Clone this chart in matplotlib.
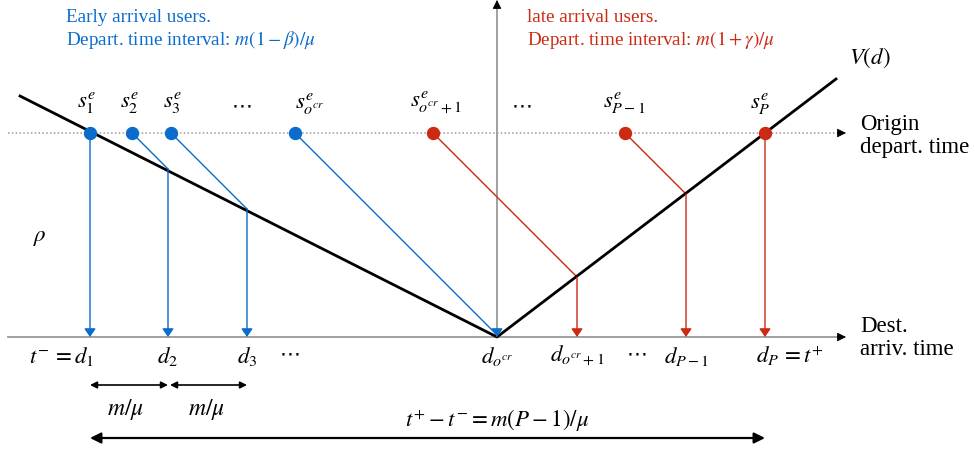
import numpy as np
import matplotlib.pyplot as plt

plt.rcParams['font.family'] = ['Liberation Serif', 'DejaVu Serif']
plt.rcParams['mathtext.fontset'] = 'stix'

# diagram coordinates (pixel-like units, y grows downward)
y_dep = 133          # origin departure time line
y_arr = 337          # destination arrival time line
x_star = 497         # d_{o^cr}, bottom of V

# departure / arrival times of users
dep_early = [90, 132, 171, 295]
arr_early = [90, 168, 247, 497]
dep_late = [433, 625, 765]
arr_late = [577, 686, 765]

# V(d) curve end points
v_x = [20, 497, 836]
v_y = [96, 337, 79]

s_labels = [r'$s^e_1$', r'$s^e_2$', r'$s^e_3$', None, r'$s^e_{o^{cr}}$',
            r'$s^e_{o^{cr}+1}$', None, r'$s^e_{P-1}$', r'$s^e_P$']
s_label_x = [86, 129, 172, 242, 310, 436, 522, 624, 760]

d_labels = [r'$t^{-}\,=d_1$', r'$d_2$', r'$d_3$', None, r'$d_{o^{cr}}$',
            r'$d_{o^{cr}+1}$', None, r'$d_{P-1}$', r'$d_P\,=t^{+}$']
d_label_x = [62, 168, 247, 290, 497, 577, 637, 687, 790]

blue = '#0a6ccc'
red = '#cc2a12'
gray = '#999999'

fig = plt.figure(figsize=(9.75, 4.53), dpi=100)
ax = fig.add_axes([0, 0, 1, 1])
ax.set_xlim(0, 975)
ax.set_ylim(453, 0)
ax.axis('off')

def arrow(x0, y0, x1, y1, color, lw=1.0, style='-|>', ms=12):
    ax.annotate('', xy=(x1, y1), xytext=(x0, y0),
                arrowprops=dict(arrowstyle=style, color=color, lw=lw,
                                mutation_scale=ms, shrinkA=0, shrinkB=0))

head = '-|>,head_length=0.6,head_width=0.3'
# axes: gray lines, small black heads
ax.plot([8, 840], [y_arr, y_arr], color=gray, lw=1.3)
arrow(838, y_arr, 846, y_arr, 'black', lw=0.6, style=head, ms=9)
ax.plot([x_star, x_star], [y_arr, 6], color=gray, lw=1.3)
arrow(x_star, 8, x_star, 0, 'black', lw=0.6, style=head, ms=9)
ax.plot([8, 838], [y_dep, y_dep], color=gray, lw=1.1, ls=(0, (1, 1.5)))
arrow(838, y_dep, 846, y_dep, 'black', lw=0.6, style=head, ms=9)

# V(d)
ax.plot(v_x, v_y, color='black', lw=2.0, zorder=3)

# user trajectories: 45 degree line to V(d), then down to arrival
chead = '-|>,head_length=0.55,head_width=0.38'
for xs_list, xa_list, c in [(dep_early, arr_early, blue), (dep_late, arr_late, red)]:
    for xs, xa in zip(xs_list, xa_list):
        yk = min(y_dep + (xa - xs), y_arr)
        ax.plot([xs, xa], [y_dep, yk], color=c, lw=1.0, zorder=2)
        if yk < y_arr:
            arrow(xa, yk, xa, y_arr, c, lw=1.0, style=chead, ms=9)
        else:
            arrow(xs, y_dep, xa, y_arr, c, lw=1.0, style=chead, ms=9)
    ax.plot(xs_list, [y_dep] * len(xs_list), 'o', color=c, ms=8.6, zorder=4)

for lab, x in zip(s_labels, s_label_x):
    if lab is None:
        ax.text(x, 106, '\u22ef', fontsize=15, ha='center', va='center',
                family='DejaVu Sans')
    else:
        ax.text(x, 103, lab, fontsize=16.5, ha='center', va='center')
for lab, x in zip(d_labels, d_label_x):
    if lab is None:
        ax.text(x, 354, '\u22ef', fontsize=15, ha='center', va='center',
                family='DejaVu Sans')
    else:
        ax.text(x, 356, lab, fontsize=16.5, ha='center', va='center')

ax.text(849, 58, r'$V(d)$', fontsize=16.5, ha='left', va='center')
ax.text(40, 237, r'$\rho$', fontsize=16.5, ha='center', va='center')

ax.text(860, 136, 'Origin\ndepart. time', fontsize=16.5, ha='left', va='center',
        linespacing=1.1)
ax.text(860, 338, 'Dest.\narriv. time', fontsize=16.5, ha='left', va='center',
        linespacing=1.1)

ax.text(66, 17, 'Early arrival users.', fontsize=13.8, color=blue, va='center')
ax.text(66, 40, r'Depart. time interval: $m(1-\beta)/\mu$', fontsize=13.8,
        color=blue, va='center')
ax.text(527, 17, 'late arrival users.', fontsize=13.8, color=red, va='center')
ax.text(527, 40, r'Depart. time interval: $m(1+\gamma)/\mu$', fontsize=13.8,
        color=red, va='center')

# interval arrows
arrow(90, 385, 168, 385, 'black', lw=1.2, style='<|-|>', ms=10)
arrow(170, 385, 247, 385, 'black', lw=1.2, style='<|-|>', ms=10)
ax.text(126, 410, r'$m/\mu$', fontsize=17, ha='center', va='center')
ax.text(207, 410, r'$m/\mu$', fontsize=17, ha='center', va='center')

arrow(90, 438, 765, 438, 'black', lw=1.6, style='<|-|>', ms=16)
ax.text(497, 421, r'$t^{+}-t^{-}=m(P-1)/\mu$', fontsize=16.5, ha='center', va='center')

fig.savefig('out.png', dpi=100)
